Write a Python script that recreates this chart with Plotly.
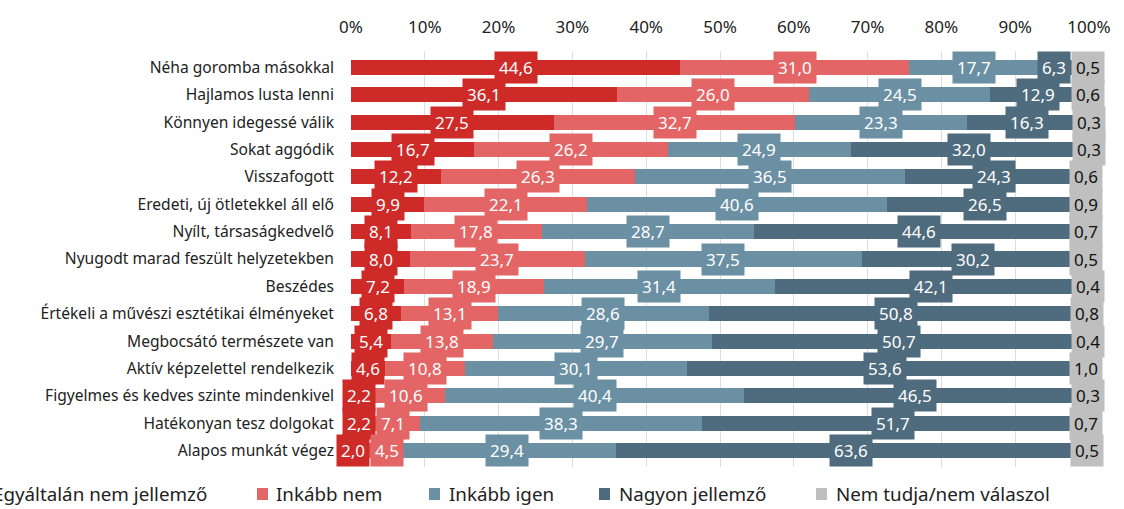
import plotly.graph_objects as go

categories = [
    "Néha goromba másokkal",
    "Hajlamos lusta lenni",
    "Könnyen idegessé válik",
    "Sokat aggódik",
    "Visszafogott",
    "Eredeti, új ötletekkel áll elő",
    "Nyílt, társaságkedvelő",
    "Nyugodt marad feszült helyzetekben",
    "Beszédes",
    "Értékeli a művészi esztétikai élményeket",
    "Megbocsátó természete van",
    "Aktív képzelettel rendelkezik",
    "Figyelmes és kedves szinte mindenkivel",
    "Hatékonyan tesz dolgokat",
    "Alapos munkát végez",
]

egyaltalan_nem = [44.6, 36.1, 27.5, 16.7, 12.2, 9.9, 8.1, 8.0, 7.2, 6.8, 5.4, 4.6, 2.2, 2.2, 2.0]
inkabb_nem = [31.0, 26.0, 32.7, 26.2, 26.3, 22.1, 17.8, 23.7, 18.9, 13.1, 13.8, 10.8, 10.6, 7.1, 4.5]
inkabb_igen = [17.7, 24.5, 23.3, 24.9, 36.5, 40.6, 28.7, 37.5, 31.4, 28.6, 29.7, 30.1, 40.4, 38.3, 29.4]
nagyon = [6.3, 12.9, 16.3, 32.0, 24.3, 26.5, 44.6, 30.2, 42.1, 50.8, 50.7, 53.6, 46.5, 51.7, 63.6]
nem_tudja = [0.5, 0.6, 0.3, 0.3, 0.6, 0.9, 0.7, 0.5, 0.4, 0.8, 0.4, 1.0, 0.3, 0.7, 0.5]

series_names = ["Egyáltalán nem jellemző", "Inkább nem", "Inkább igen", "Nagyon jellemző", "Nem tudja/nem válaszol"]
series_values = [egyaltalan_nem, inkabb_nem, inkabb_igen, nagyon, nem_tudja]
colors = ["#CD2A28", "#E46565", "#6B90A4", "#4F6B7E", "#BFBFBF"]
label_colors = ["white", "white", "white", "white", "#111111"]
tick_vals = [0, 10, 20, 30, 40, 50, 60, 70, 80, 90, 100]
tick_text = ["0%", "10%", "20%", "30%", "40%", "50%", "60%", "70%", "80%", "90%", "100%"]

FONT = "Noto Sans"
VAL_SIZE = 17
PAD = 4

# plot area geometry in pixels
L, W, B, H = 351, 738, 467, 416
PX_PER_UNIT = W / 100.0


def px(xp):
    return (xp - L) / W


def py(yp):
    return (B - yp) / H


def est_width(txt):
    w = 0.0
    for ch in txt:
        w += 0.26 * VAL_SIZE if ch == "," else 0.572 * VAL_SIZE
    return w + 2 * PAD + 2


fig = go.Figure()
for name, vals, col in zip(series_names, series_values, colors):
    fig.add_trace(go.Bar(
        y=categories, x=vals, name=name, orientation="h",
        marker=dict(color=col, line=dict(width=0)), width=0.55,
        showlegend=False, hoverinfo="x+y+name",
    ))

annotations = []
for i, cat in enumerate(categories):
    cum = 0.0
    items = []
    for s, vals in enumerate(series_values):
        v = vals[i]
        center = cum + v / 2
        cum += v
        txt = f"{v:.1f}".replace(".", ",")
        items.append([center, txt, s, 0.0, est_width(txt)])
    # simple collision relaxation between neighbouring label boxes
    n = len(items)
    for _ in range(6):
        for k in range(n - 1):
            a, b = items[k], items[k + 1]
            ca = L + a[0] * PX_PER_UNIT + a[3]
            cb = L + b[0] * PX_PER_UNIT + b[3]
            overlap = (ca + a[4] / 2) - (cb - b[4] / 2)
            if overlap > 0:
                if k + 1 == n - 1:
                    a[3] -= overlap
                else:
                    a[3] -= overlap / 2
                    b[3] += overlap / 2
    for center, txt, s, shift, _w in items:
        annotations.append(dict(
            x=center, y=cat, xref="x", yref="y", xshift=shift,
            text=txt, showarrow=False, bgcolor=colors[s], borderpad=PAD,
            font=dict(family=FONT, size=VAL_SIZE, color=label_colors[s]),
        ))

# legend (manual)
shapes = []
leg_sq = [-28, 257, 429, 599, 816]
leg_txt = [209, 274, 447, 617, 834]
for k, name in enumerate(series_names):
    shapes.append(dict(type="rect", xref="paper", yref="paper",
                       x0=px(leg_sq[k]), x1=px(leg_sq[k] + 11),
                       y0=py(500), y1=py(488), fillcolor=colors[k], line=dict(width=0)))
    annotations.append(dict(
        x=px(leg_txt[k]), y=py(494), xref="paper", yref="paper",
        text=name, showarrow=False,
        xanchor="right" if k == 0 else "left", yanchor="middle",
        font=dict(family=FONT, size=18.8, color="#222222"),
    ))

fig.update_layout(
    barmode="stack",
    width=1124, height=509,
    margin=dict(l=L, r=1124 - L - W, t=51, b=509 - B, autoexpand=False),
    plot_bgcolor="white", paper_bgcolor="white",
    font=dict(family=FONT, color="#222222"),
    annotations=annotations,
    shapes=shapes,
    xaxis=dict(
        side="top", range=[0, 100], tickvals=tick_vals, ticktext=tick_text,
        showgrid=True, gridcolor="#DDDDDD", gridwidth=1, zeroline=False,
        tickfont=dict(family=FONT, size=17, color="#222222"),
        ticklabelstandoff=14, fixedrange=True,
    ),
    yaxis=dict(
        categoryorder="array", categoryarray=categories, autorange="reversed",
        tickfont=dict(family=FONT, size=15.6, color="#222222"),
        ticklabelstandoff=16, showgrid=False, fixedrange=True,
    ),
    bargap=0.45,
)

fig.write_html("out.html", config={"displayModeBar": False},
               post_script="document.body.style.margin='0';document.body.style.overflow='hidden';")
